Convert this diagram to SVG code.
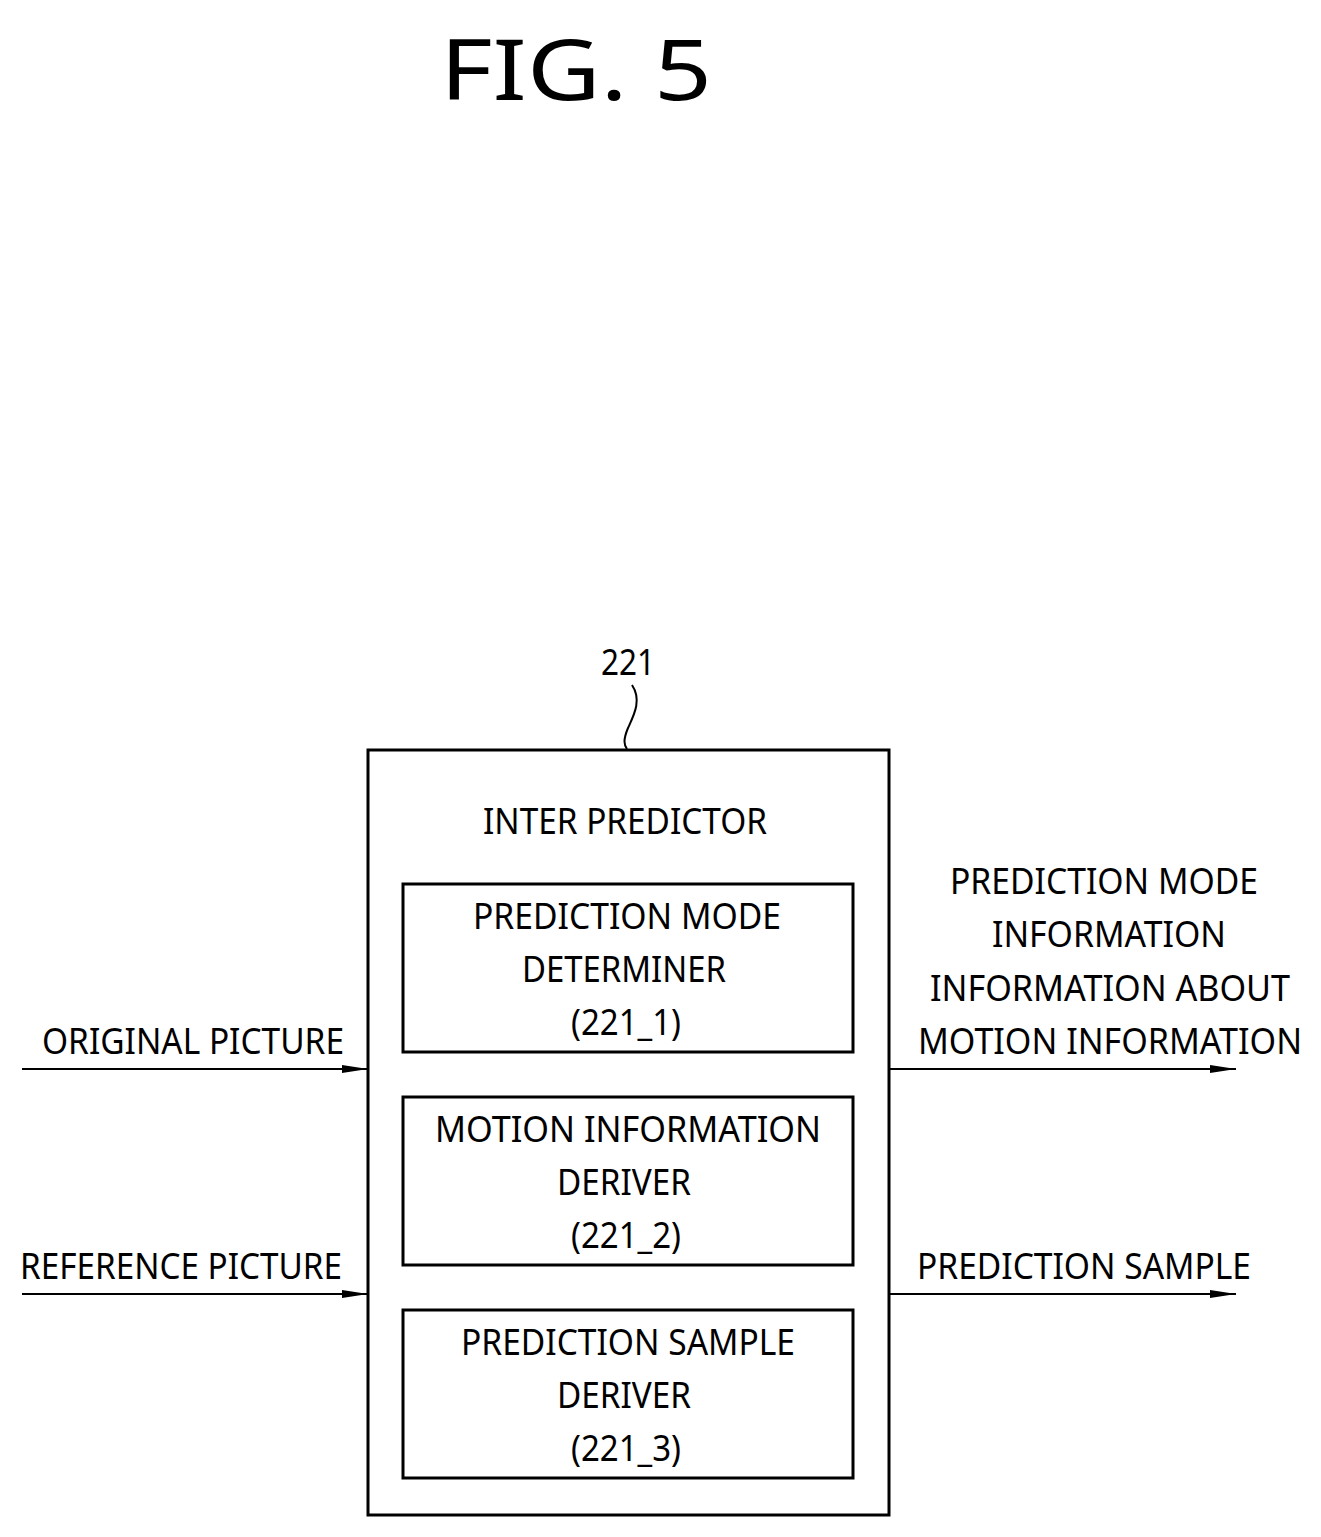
<svg xmlns="http://www.w3.org/2000/svg" width="1321" height="1537" viewBox="0 0 1321 1537">
<defs>
<style>
text{font-family:"Noto Sans","Liberation Sans",sans-serif;font-size:36px;fill:#000;text-anchor:middle}
.box{fill:none;stroke:#000;stroke-width:3}
.ln{stroke:#000;stroke-width:2;fill:none}
</style>
<marker id="ah" markerWidth="26" markerHeight="10" refX="26" refY="5" orient="auto" markerUnits="userSpaceOnUse">
<path d="M0,1 L26,5 L0,9 Z" fill="#000"/>
</marker>
</defs>
<rect width="1321" height="1537" fill="#fff"/>
<text x="576" y="100" style="font-size:84px" textLength="272" lengthAdjust="spacingAndGlyphs">FIG. 5</text>
<g id="n221">
<text x="628" y="675" textLength="54" lengthAdjust="spacingAndGlyphs">221</text>
<path class="ln" d="M632,685 C642,700 634,715 628,728 C623,740 624,745 627,749"/>
<rect class="box" x="368" y="750" width="521" height="765"/>
<text x="625" y="834" textLength="284" lengthAdjust="spacingAndGlyphs">INTER PREDICTOR</text>
</g>
<g id="n221_1">
<rect class="box" x="403" y="884" width="450" height="168"/>
<text x="627" y="929" textLength="308" lengthAdjust="spacingAndGlyphs">PREDICTION MODE</text>
<text x="624" y="982" textLength="204" lengthAdjust="spacingAndGlyphs">DETERMINER</text>
<text x="626" y="1035" textLength="110" lengthAdjust="spacingAndGlyphs">(221_1)</text>
</g>
<g id="n221_2">
<rect class="box" x="403" y="1097" width="450" height="168"/>
<text x="628" y="1142" textLength="386" lengthAdjust="spacingAndGlyphs">MOTION INFORMATION</text>
<text x="624" y="1195" textLength="134" lengthAdjust="spacingAndGlyphs">DERIVER</text>
<text x="626" y="1248" textLength="110" lengthAdjust="spacingAndGlyphs">(221_2)</text>
</g>
<g id="n221_3">
<rect class="box" x="403" y="1310" width="450" height="168"/>
<text x="628" y="1355" textLength="334" lengthAdjust="spacingAndGlyphs">PREDICTION SAMPLE</text>
<text x="624" y="1408" textLength="134" lengthAdjust="spacingAndGlyphs">DERIVER</text>
<text x="626" y="1461" textLength="110" lengthAdjust="spacingAndGlyphs">(221_3)</text>
</g>
<g id="connectors">
<line class="ln" x1="22" y1="1069" x2="368" y2="1069" marker-end="url(#ah)"/>
<line class="ln" x1="22" y1="1294" x2="368" y2="1294" marker-end="url(#ah)"/>
<line class="ln" x1="889" y1="1069" x2="1236" y2="1069" marker-end="url(#ah)"/>
<line class="ln" x1="889" y1="1294" x2="1236" y2="1294" marker-end="url(#ah)"/>
</g>
<g id="labels">
<text x="193" y="1054" textLength="302" lengthAdjust="spacingAndGlyphs">ORIGINAL PICTURE</text>
<text x="181" y="1279" textLength="322" lengthAdjust="spacingAndGlyphs">REFERENCE PICTURE</text>
<text x="1104" y="894" textLength="308" lengthAdjust="spacingAndGlyphs">PREDICTION MODE</text>
<text x="1109" y="947" textLength="234" lengthAdjust="spacingAndGlyphs">INFORMATION</text>
<text x="1110" y="1001" textLength="360" lengthAdjust="spacingAndGlyphs">INFORMATION ABOUT</text>
<text x="1110" y="1054" textLength="384" lengthAdjust="spacingAndGlyphs">MOTION INFORMATION</text>
<text x="1084" y="1279" textLength="334" lengthAdjust="spacingAndGlyphs">PREDICTION SAMPLE</text>
</g>
</svg>
